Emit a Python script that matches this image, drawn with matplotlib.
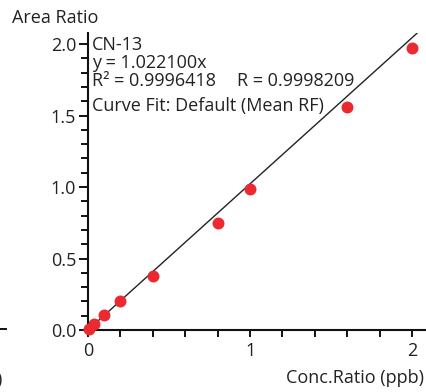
import matplotlib
matplotlib.use('agg')
import matplotlib.pyplot as plt
from matplotlib.ticker import MultipleLocator

# calibration points
conc = [0.005, 0.04, 0.1, 0.2, 0.4, 0.8, 1.0, 1.6, 2.0]
area = [0.004, 0.04, 0.105, 0.205, 0.38, 0.75, 0.985, 1.56, 1.97]
slope = 1.0221
fit_x = [0.0, 2.03]

compound = "CN-13"
eq_text = "y = 1.022100x"
r2_text = "R\u00b2 = 0.9996418"
r_text = "R = 0.9998209"
fit_text = "Curve Fit: Default (Mean RF)"

plt.rcParams['font.family'] = ['Open Sans', 'DejaVu Sans']
plt.rcParams['font.size'] = 13
plt.rcParams['text.color'] = '#222222'

fig = plt.figure(figsize=(4.26, 3.92), dpi=100)
W, H = 426.0, 392.0
left, right, top, bottom = 88, 426, 33, 330
ax = fig.add_axes([left / W, 1 - bottom / H, (right - left) / W, (bottom - top) / H])

ax.plot(fit_x, [slope * x for x in fit_x], color='#222222', lw=1.0, zorder=2)
ax.plot(conc, area, 'o', color='#ec2830', ms=8.6, mew=0, zorder=3, clip_on=False)

ax.set_xlim(0, 2.086)
ax.set_ylim(0, 2.077)
ax.xaxis.set_major_locator(MultipleLocator(1))
ax.xaxis.set_minor_locator(MultipleLocator(0.2))
ax.yaxis.set_major_locator(MultipleLocator(0.5))
ax.yaxis.set_minor_locator(MultipleLocator(0.1))
ax.xaxis.set_major_formatter(plt.FuncFormatter(lambda v, p: '%d' % v))
ax.yaxis.set_major_formatter(plt.FuncFormatter(lambda v, p: '%.1f' % v))

for side in ['top', 'right']:
    ax.spines[side].set_visible(False)
for side in ['left', 'bottom']:
    ax.spines[side].set_linewidth(1.5)
    ax.spines[side].set_color('#111111')

ax.tick_params(axis='y', which='major', length=6.5, width=1.4, pad=2, labelsize=13, colors='#111111', labelcolor='#222222')
ax.tick_params(axis='y', which='minor', length=5, width=1.4, colors='#111111')
ax.tick_params(axis='x', which='both', length=5, width=1.4, pad=4, labelsize=13, colors='#111111', labelcolor='#222222')

fig.text(12 / W, 1 - 18 / H, "Area Ratio", ha='left', va='center', fontsize=13)
fig.text(424 / W, 1 - 378 / H, "Conc.Ratio (ppb)", ha='right', va='center', fontsize=13)

tx = (92 - left) / (right - left)
def ay(py):
    return (bottom - py) / (bottom - top)
fs = 13
ax.text(tx, ay(45), compound, transform=ax.transAxes, ha='left', va='center', fontsize=fs)
ax.text(tx, ay(63), eq_text, transform=ax.transAxes, ha='left', va='center', fontsize=fs)
ax.text(tx, ay(81), r2_text, transform=ax.transAxes, ha='left', va='center', fontsize=fs)
ax.text((237 - left) / (right - left), ay(81), r_text, transform=ax.transAxes, ha='left', va='center', fontsize=fs)
ax.text(tx, ay(106), fit_text, transform=ax.transAxes, ha='left', va='center', fontsize=fs)

# bits of the neighbouring chart cut off at the left edge
fig.add_artist(plt.Line2D([0, 6 / W], [1 - 329 / H, 1 - 329 / H], color='#111111', lw=1.4))
fig.text(-4 / W, 1 - 380 / H, ")", ha='left', va='center', fontsize=13)

fig.savefig('out.png', dpi=100)
